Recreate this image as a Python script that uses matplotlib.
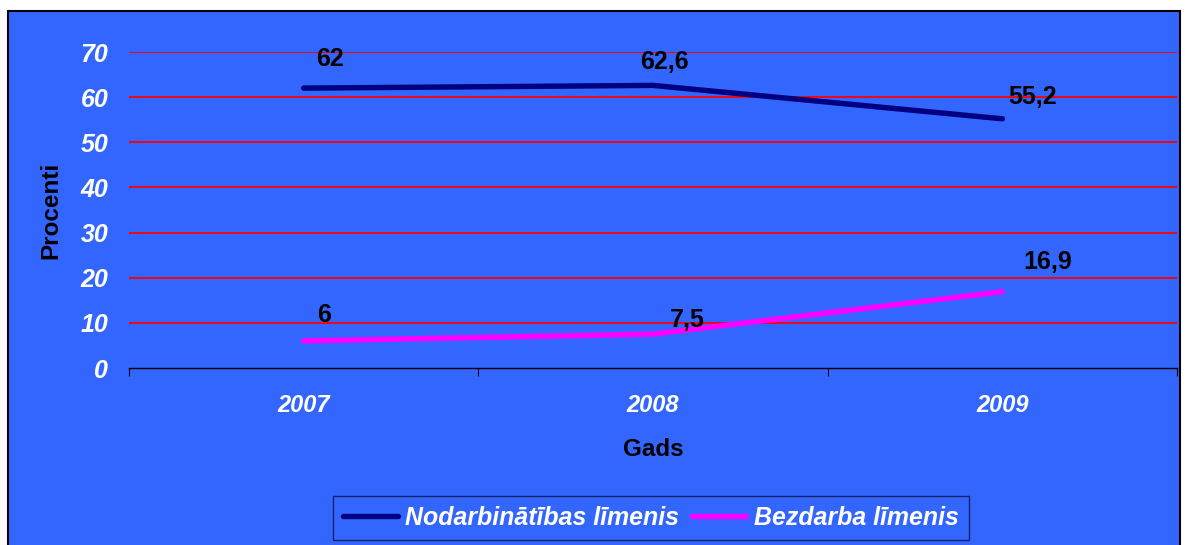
import matplotlib
matplotlib.use("Agg")
import matplotlib.pyplot as plt
from matplotlib.patches import Rectangle
from matplotlib.lines import Line2D
import numpy as np

years = ["2007", "2008", "2009"]
employment = [62, 62.6, 55.2]
unemployment = [6, 7.5, 16.9]
employment_labels = ["62", "62,6", "55,2"]
unemployment_labels = ["6", "7,5", "16,9"]
yticks = [0, 10, 20, 30, 40, 50, 60, 70]
series_names = ["Nodarbinātības līmenis", "Bezdarba līmenis"]

BLUE = "#3366FF"
NAVY = "#000080"
MAGENTA = "#FF00FF"

plt.rcParams['font.family'] = ['Liberation Sans', 'DejaVu Sans']

fig = plt.figure(figsize=(11.85, 5.45), dpi=100)
fig.patch.set_facecolor("white")
fig.patches.append(Rectangle((8/1185, -0.05), (1180-8)/1185, 1 - 11/545 + 0.05,
                             transform=fig.transFigure, facecolor=BLUE,
                             edgecolor="black", linewidth=1.5, zorder=-10))

ax = fig.add_axes([129/1185, 1-368/545, (1177-129)/1185, (368-52)/545])
ax.set_zorder(1)
ax.patch.set_alpha(0)
ax.set_xlim(0, 3)
ax.set_ylim(0, 70)
x = np.arange(len(years)) + 0.5

ax.plot(x, employment, color=NAVY, linewidth=3.9, solid_capstyle="round",
        solid_joinstyle="round", zorder=3)
ax.plot(x, unemployment, color=MAGENTA, linewidth=3.9, solid_capstyle="round",
        solid_joinstyle="round", zorder=3)

for yv in yticks[1:]:
    ax.axhline(yv, color="#FF0000", linewidth=1.3, zorder=1)

emp_off = [(19, 21), (8, 17), (21.5, 15.5)]
unemp_off = [(15, 18.5), (25, 10), (33, 21.5)]
for xi, yv, lab, off in zip(x, employment, employment_labels, emp_off):
    ax.annotate(lab, (xi, yv), xytext=off, textcoords="offset points",
                ha="center", va="center", fontsize=18, fontweight="bold", color="black", zorder=5)
for xi, yv, lab, off in zip(x, unemployment, unemployment_labels, unemp_off):
    ax.annotate(lab, (xi, yv), xytext=off, textcoords="offset points",
                ha="center", va="center", fontsize=18, fontweight="bold", color="black", zorder=5)

for s in ["top", "right", "left"]:
    ax.spines[s].set_visible(False)
ax.spines["bottom"].set_color("black")
ax.spines["bottom"].set_linewidth(1.0)

ax.set_yticks(yticks)
ax.set_yticklabels([str(v) for v in yticks], fontsize=18, fontweight="bold",
                   fontstyle="italic", color="white")
ax.tick_params(axis="y", length=0, pad=15)
ax.set_xticks([0, 1, 2, 3], minor=False)
ax.set_xticklabels([])
ax.tick_params(axis="x", which="major", direction="out", length=6, color="black")
ax.set_xticks(x, minor=True)
ax.set_xticklabels(years, minor=True, fontsize=17, fontweight="bold",
                   fontstyle="italic", color="white")
ax.tick_params(axis="x", which="minor", length=0, pad=19)

ax.set_ylabel("Procenti", fontsize=17.5, fontweight="bold", color="black")
ax.set_xlabel("Gads", fontsize=17.5, fontweight="bold", color="black")
ax.yaxis.set_label_coords(-0.075, 0.5)
ax.xaxis.set_label_coords(0.5, -(450-368)/316)
ax.xaxis.label.set_va("center")
ax.yaxis.label.set_va("center")

handles = [Line2D([0], [0], color=NAVY, lw=3.9, solid_capstyle="round"),
           Line2D([0], [0], color=MAGENTA, lw=3.9, solid_capstyle="round")]
leg = fig.legend(handles, series_names, loc="center", bbox_to_anchor=(651/1185, 1-518/545),
                 ncol=2, frameon=True, fancybox=False, handlelength=2.2, handletextpad=0.3,
                 columnspacing=0.5, borderpad=0.4,
                 prop={"size": 17.9, "weight": "bold", "style": "italic"})
leg.get_frame().set_facecolor(BLUE)
leg.get_frame().set_edgecolor("#101040")
leg.get_frame().set_linewidth(1.0)
for t in leg.get_texts():
    t.set_color("white")

fig.savefig("out.png", dpi=100, facecolor="white")
